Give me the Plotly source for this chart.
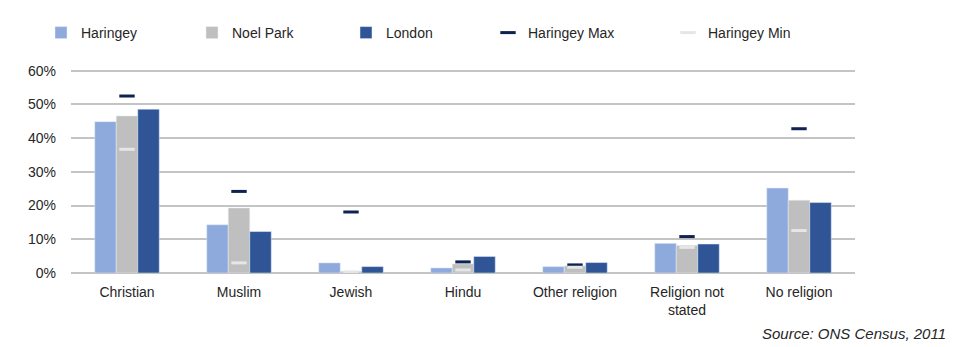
import plotly.graph_objects as go

categories = ["Christian", "Muslim", "Jewish", "Hindu", "Other religion",
              "Religion not<br>stated", "No religion"]
haringey = [0.449, 0.143, 0.030, 0.015, 0.019, 0.088, 0.252]
noel_park = [0.466, 0.193, 0.005, 0.027, 0.021, 0.082, 0.216]
london = [0.486, 0.123, 0.019, 0.049, 0.031, 0.086, 0.209]
haringey_max = [0.525, 0.242, 0.181, 0.033, 0.024, 0.108, 0.428]
haringey_min = [0.367, 0.030, 0.003, 0.009, 0.017, 0.076, 0.126]

FONT = "Liberation Sans, Arial, sans-serif"
L, R, T, B = 71, 99, 64, 74
W, H = 954, 347
PW = W - L - R
PH = H - T - B

def px_x(p):
    return (p - L) / PW

def px_y(p):
    return (H - B - p) / PH

fig = go.Figure()
legend_text_x = [81, 232, 386, 528, 708]
legend_names = ["legend", "legend2", "legend3", "legend4", "legend5"]

fig.add_trace(go.Bar(x=categories, y=haringey, name="Haringey",
                     marker_color="#8EA9DB", legend="legend"))
fig.add_trace(go.Bar(x=categories, y=noel_park, name="Noel Park",
                     marker_color="#BFBFBF", legend="legend2"))
fig.add_trace(go.Bar(x=categories, y=london, name="London",
                     marker_color="#2F5597", legend="legend3"))
fig.add_trace(go.Scatter(x=categories, y=haringey_max, name="Haringey Max",
                         mode="markers", legend="legend4",
                         marker=dict(symbol="line-ew", size=11,
                                     line=dict(width=3, color="#0F2350"))))
fig.add_trace(go.Scatter(x=categories, y=haringey_min, name="Haringey Min",
                         mode="markers", legend="legend5",
                         marker=dict(symbol="line-ew", size=11,
                                     line=dict(width=3, color="#E6E6E6"))))

layout_legends = {}
for name, tx in zip(legend_names, legend_text_x):
    layout_legends[name] = dict(
        x=px_x(tx - 40), xanchor="left", y=px_y(33), yanchor="middle",
        orientation="h", bgcolor="rgba(0,0,0,0)",
        font=dict(family=FONT, size=14, color="#262626"),
        itemclick=False, itemdoubleclick=False,
    )

fig.update_layout(
    width=W, height=H,
    margin=dict(l=L, r=R, t=T, b=B, pad=0),
    paper_bgcolor="white", plot_bgcolor="white",
    barmode="group", bargap=0.424, bargroupgap=0,
    showlegend=True,
    font=dict(family=FONT, size=14, color="#262626"),
    **layout_legends,
)

fig.update_xaxes(
    showgrid=False, showline=False, zeroline=False,
    tickfont=dict(family=FONT, size=14, color="#262626"),
    ticks="", ticklabelstandoff=9,
)
fig.update_yaxes(
    range=[0, 0.62], tickvals=[0, 0.1, 0.2, 0.3, 0.4, 0.5, 0.6],
    tickformat=".0%", showgrid=True, gridcolor="#C4C4C4", gridwidth=1.6,
    zeroline=True, zerolinecolor="#C4C4C4", zerolinewidth=1.6,
    showline=False, ticks="", ticklabelstandoff=14,
    tickfont=dict(family=FONT, size=14, color="#262626"),
)

fig.add_annotation(
    text="<i>Source: ONS Census, 2011</i>", xref="paper", yref="paper",
    x=px_x(948), y=px_y(333), xanchor="right", yanchor="middle",
    showarrow=False, font=dict(family=FONT, size=15, color="#262626"),
)

fig.write_html("out.html")
